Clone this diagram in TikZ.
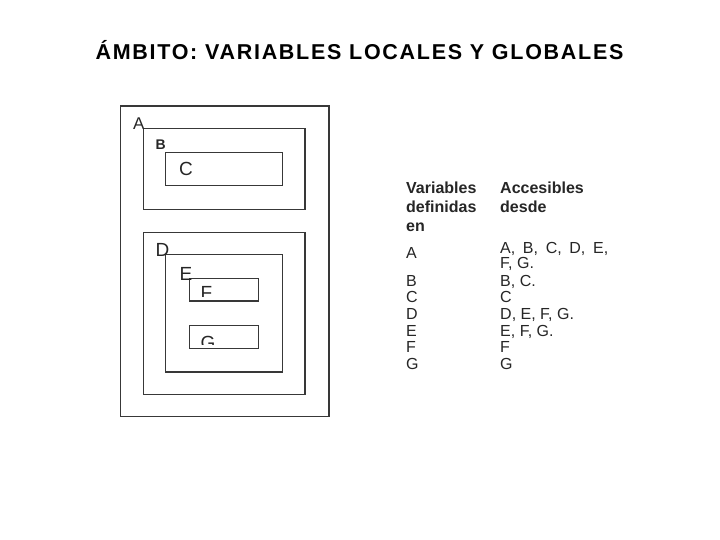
\documentclass[tikz,border=0pt]{standalone}
\usepackage{fontspec}
\setmainfont{Liberation Sans}
\newfontfamily\titlefont[LetterSpace=8]{Liberation Sans}
\begin{document}
\begin{tikzpicture}[x=1pt,y=-1pt,
  scopebox/.style={draw=black!78,line width=1.4pt},
  lbl/.style={anchor=base west,inner sep=0pt,text=black!85},
  tbl/.style={anchor=base west,inner sep=0pt,font=\fontsize{16}{18}\selectfont,text=black!85}]
\useasboundingbox[fill=white] (0,0) rectangle (720,540);
% title
\node[anchor=base,inner sep=0pt,font=\titlefont\bfseries\fontsize{21.5}{24}\selectfont] (title) at (359.5,59.5) {ÁMBITO: VARIABLES LOCALES Y GLOBALES};
% boxes
\draw[scopebox] (120.7,106) rectangle (329,416.7);
\draw[scopebox] (143.3,128.7) rectangle (305,209.3);
\draw[scopebox] (165.7,152.3) rectangle (282.3,185.7);
\draw[scopebox] (143.3,232.3) rectangle (305,394.7);
\draw[scopebox] (165.7,254.7) rectangle (282.3,372);
\draw[scopebox] (189.3,278.3) rectangle (258.7,301);
\draw[scopebox] (189.3,325.7) rectangle (258.7,348.3);
% box labels
\node[lbl,font=\fontsize{17}{19}\selectfont] (la) at (132.8,129.5) {A};
\node[lbl,font=\bfseries\fontsize{14}{16}\selectfont] (lb) at (155.5,149.3) {B};
\node[lbl,font=\fontsize{19}{21}\selectfont] (lc) at (178.8,176) {C};
\node[lbl,font=\fontsize{19}{21}\selectfont] (ld) at (155.5,256.7) {D};
\node[lbl,font=\fontsize{19}{21}\selectfont] (le) at (179.5,280) {E};
\begin{scope}
\clip (190,279) rectangle (258,296);
\node[lbl,font=\fontsize{19}{21}\selectfont] (lf) at (200.5,299) {F};
\end{scope}
\begin{scope}
\clip (190,326) rectangle (258,344);
\node[lbl,font=\fontsize{19}{21}\selectfont] (lg) at (200.5,349) {G};
\end{scope}
% table
\node[tbl,font=\bfseries\fontsize{16}{18}\selectfont] (h1) at (406,194) {Variables};
\node[tbl,font=\bfseries\fontsize{16}{18}\selectfont] (h2) at (406,212.3) {definidas};
\node[tbl,font=\bfseries\fontsize{16}{18}\selectfont] (h3) at (406,231) {en};
\node[tbl,font=\bfseries\fontsize{16}{18}\selectfont] (h4) at (500,194) {Accesibles};
\node[tbl,font=\bfseries\fontsize{16}{18}\selectfont] (h5) at (500,212.3) {desde};
\node[tbl] (va) at (406,258.3) {A};
\node[tbl] (vb) at (406,286.7) {B};
\node[tbl] (vc) at (406,302.7) {C};
\node[tbl] (vd) at (406,319.5) {D};
\node[tbl] (ve) at (406,336) {E};
\node[tbl] (vf) at (406,352.5) {F};
\node[tbl] (vg) at (406,369.5) {G};
\node[tbl] (aa1) at (500,253.3) {\makebox[108pt][s]{A, B, C, D, E,}};
\node[tbl] (aa2) at (500,268.8) {F, G.};
\node[tbl] (ab) at (500,286.7) {B, C.};
\node[tbl] (ac) at (500,302.7) {C};
\node[tbl] (ad) at (500,319.5) {D, E, F, G.};
\node[tbl] (ae) at (500,336) {E, F, G.};
\node[tbl] (af) at (500,352.5) {F};
\node[tbl] (ag) at (500,369.5) {G};
\end{tikzpicture}
\end{document}
